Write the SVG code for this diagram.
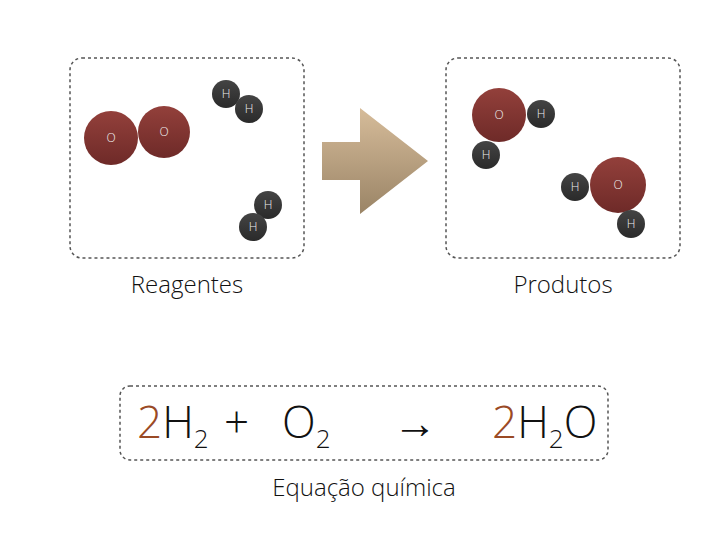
<svg xmlns="http://www.w3.org/2000/svg" width="728" height="546" viewBox="0 0 728 546">
<style>
.box{fill:none;stroke:#555;stroke-width:1.5;stroke-dasharray:3 3}
.o{fill:url(#og)}
.h{fill:url(#hg)}
.lo{font-family:"Open Sans",sans-serif;font-weight:300;font-size:12px;fill:#eee;text-anchor:middle}
.lbl{font-family:"Open Sans",sans-serif;font-weight:300;font-size:24px;fill:#111;text-anchor:middle}
.eq{font-family:"Open Sans",sans-serif;font-weight:300;font-size:44px;fill:#111}
.c{fill:#9a4a25}
</style>
<defs>
<linearGradient id="og" x1="0" y1="0" x2="0" y2="1"><stop offset="0" stop-color="#93403b"/><stop offset="1" stop-color="#6e2a28"/></linearGradient>
<linearGradient id="hg" x1="0" y1="0" x2="0" y2="1"><stop offset="0" stop-color="#444"/><stop offset="1" stop-color="#2a2a2a"/></linearGradient>
<linearGradient id="ag" x1="0" y1="0" x2="0" y2="1"><stop offset="0" stop-color="#d6bc9a"/><stop offset="1" stop-color="#9a8466"/></linearGradient>
</defs>
<g id="reagentes">
<rect class="box" x="70" y="58" width="234" height="200" rx="12"/>
<circle class="o" cx="111" cy="138" r="27"/><text class="lo" x="111" y="142">O</text>
<circle class="o" cx="164" cy="132" r="26"/><text class="lo" x="164" y="136">O</text>
<circle class="h" cx="226" cy="94" r="14"/><text class="lo" x="226" y="98">H</text>
<circle class="h" cx="249" cy="109" r="14"/><text class="lo" x="249" y="113">H</text>
<circle class="h" cx="268" cy="205" r="14"/><text class="lo" x="268" y="209">H</text>
<circle class="h" cx="253" cy="227" r="14"/><text class="lo" x="253" y="231">H</text>
<text class="lbl" x="187" y="293">Reagentes</text>
</g>
<g id="seta"><path d="M322 142H360V108L428 161L360 214V180H322Z" fill="url(#ag)"/></g>
<g id="produtos">
<rect class="box" x="446" y="58" width="234" height="200" rx="12"/>
<circle class="o" cx="499" cy="115" r="27"/><text class="lo" x="499" y="119">O</text>
<circle class="h" cx="541" cy="114" r="14"/><text class="lo" x="541" y="118">H</text>
<circle class="h" cx="486" cy="155" r="14"/><text class="lo" x="486" y="159">H</text>
<circle class="o" cx="618" cy="185" r="28"/><text class="lo" x="618" y="189">O</text>
<circle class="h" cx="575" cy="187" r="14"/><text class="lo" x="575" y="191">H</text>
<circle class="h" cx="631" cy="224" r="14"/><text class="lo" x="631" y="228">H</text>
<text class="lbl" x="563" y="293">Produtos</text>
</g>
<g id="equacao">
<rect class="box" x="120" y="386" width="488" height="74" rx="10"/>
<text class="eq" x="137" y="438"><tspan class="c">2</tspan>H<tspan font-size="26" dy="10">2</tspan></text>
<text class="eq" x="224" y="438">+</text>
<text class="eq" x="282" y="438">O<tspan font-size="26" dy="10">2</tspan></text>
<text class="eq" x="393" y="438">→</text>
<text class="eq" x="492" y="438"><tspan class="c">2</tspan>H<tspan font-size="26" dy="10">2</tspan><tspan dy="-10">O</tspan></text>
<text class="lbl" x="364" y="496">Equação química</text>
</g>
</svg>
